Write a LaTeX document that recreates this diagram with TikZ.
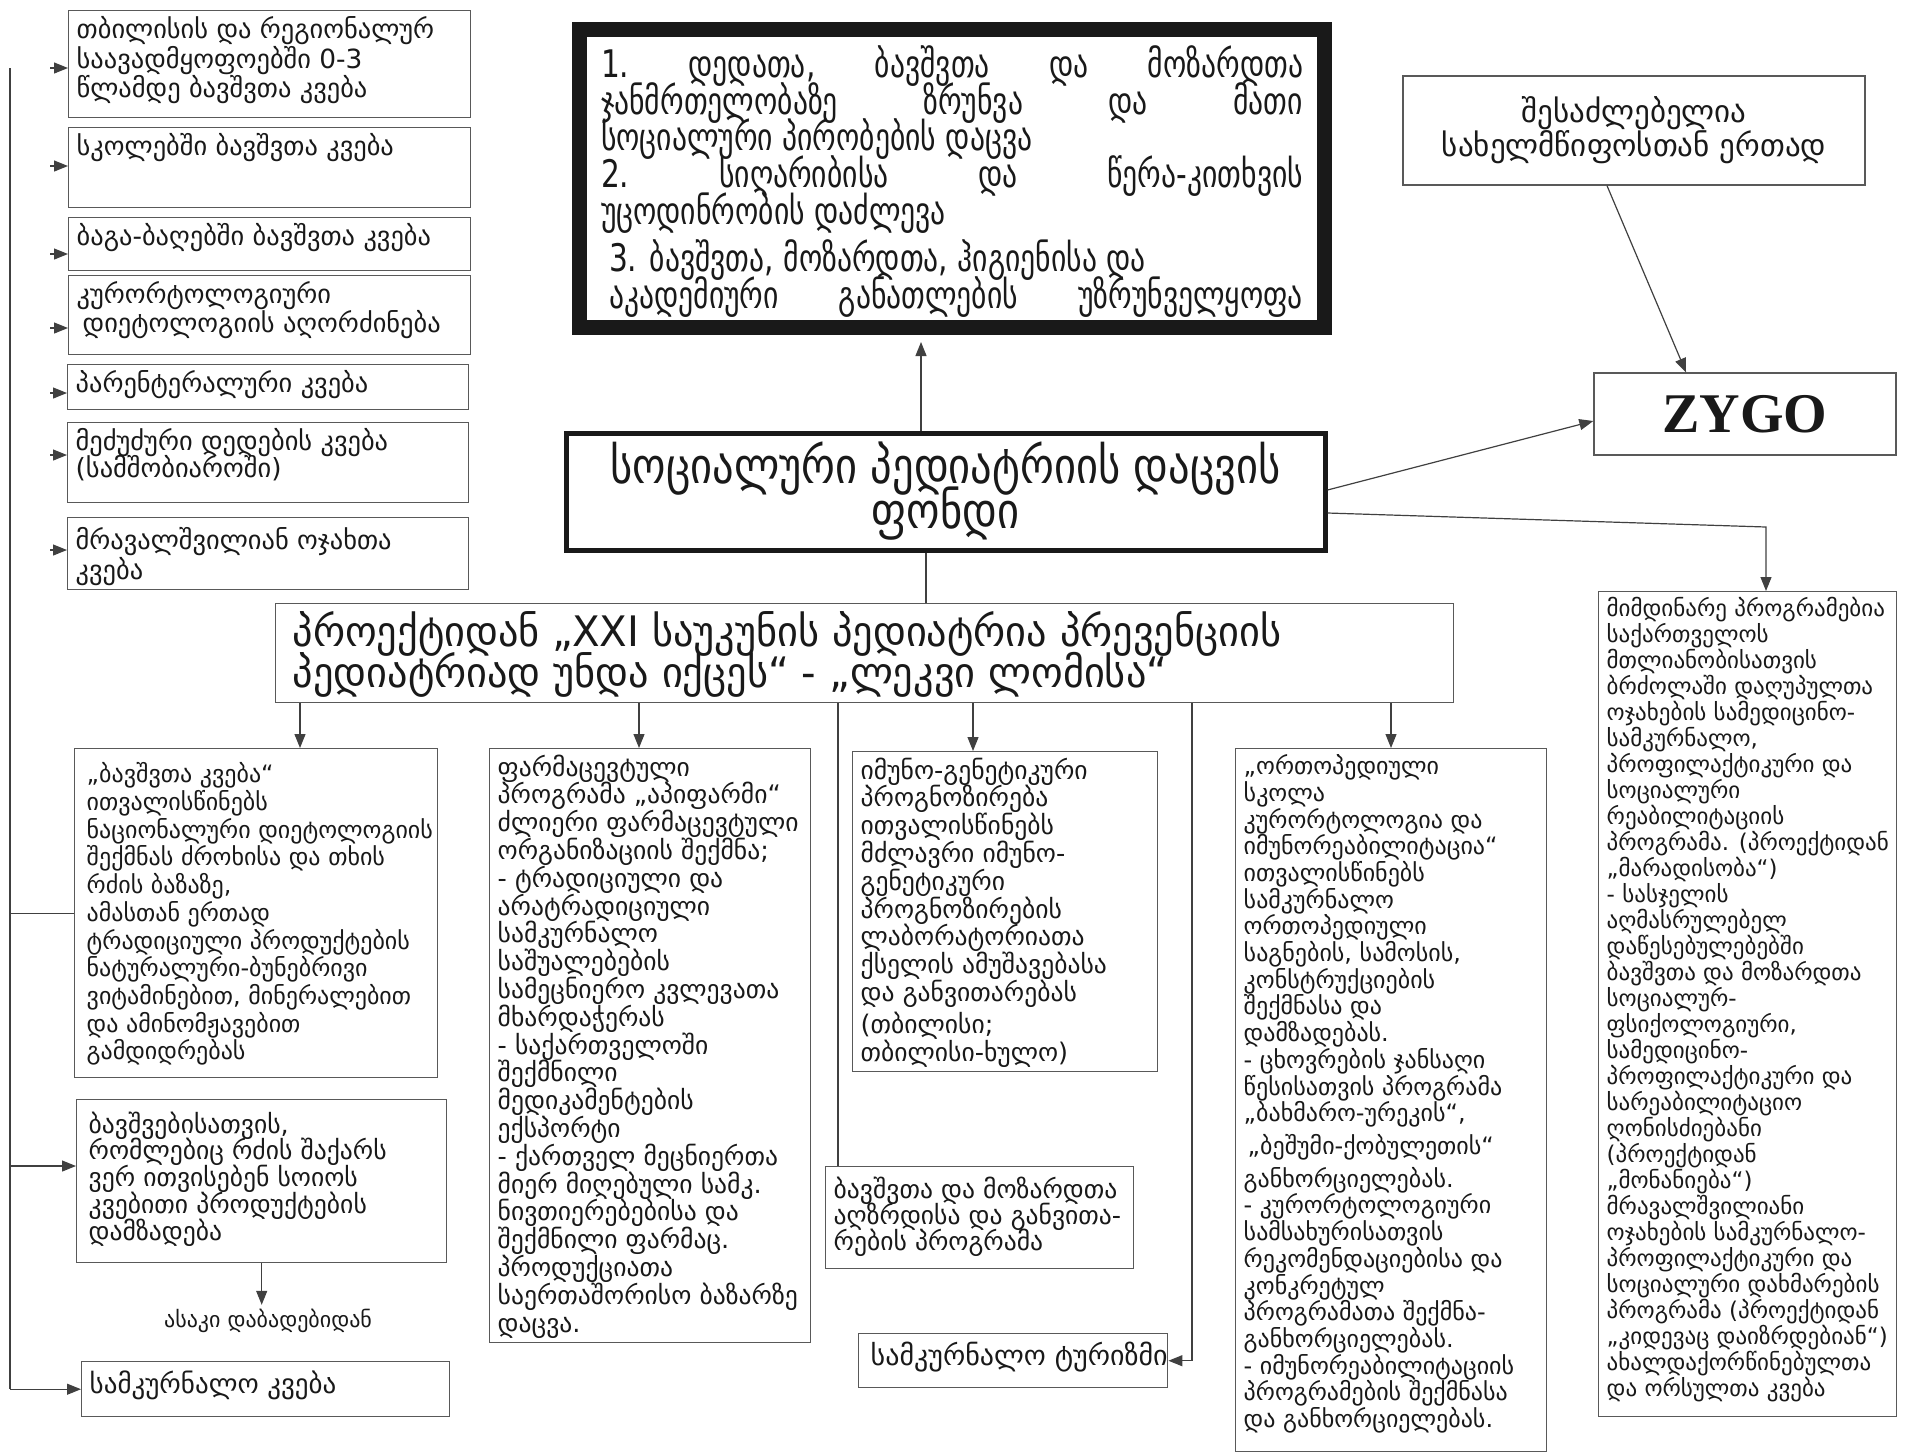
\documentclass[tikz,border=0pt]{standalone}
\usepackage{fontspec}
\setmainfont{DejaVu Sans}
\newfontfamily\gcond[FakeStretch=0.78]{DejaVu Sans}
\newfontfamily\gcondA[FakeStretch=0.85]{DejaVu Sans}
\newfontfamily\gcondB[FakeStretch=0.96]{DejaVu Sans}
\newfontfamily\zfont{Liberation Serif}
\usetikzlibrary{arrows.meta,calc}
\setlength\lineskiplimit{-100pt}
\newcommand\gb[3]{\parbox[t][#2pt][t]{#1pt}{\raggedright\rightskip=-18pt plus 1fil\lineskiplimit=-100pt #3}}
\tikzset{
  gbox/.style={draw=black!65, line width=0.7pt, inner xsep=4pt, inner ysep=3pt, anchor=north west, text=black!90},
  lfont/.style={font=\fontsize{13.2}{14.6}\selectfont},
  arr/.style={draw=black!75, line width=0.6pt, -{Triangle[length=7pt,width=5.5pt]}},
  ln/.style={draw=black!75, line width=0.6pt},
}
\begin{document}
\begin{tikzpicture}[x=0.5pt,y=-0.5pt]
\useasboundingbox (0,0) rectangle (1930,1452);

% left column boxes
\node[gbox,lfont] (L1) at (68,10) {\gb{193}{47.5}{თბილისის და რეგიონალურ\\საავადმყოფოებში 0-3\\წლამდე ბავშვთა კვება}};
\node[gbox,lfont] (L2) at (68,127) {\gb{193}{34}{სკოლებში ბავშვთა კვება}};
\node[gbox,lfont] (L3) at (68,217) {\gb{193}{20.5}{ბაგა-ბაღებში ბავშვთა კვება}};
\node[gbox,lfont] (L4) at (68,275) {\gb{193}{33.5}{კურორტოლოგიური\\\hspace*{3pt}დიეტოლოგიის აღორძინება}};
\node[gbox,lfont] (L5) at (67,364) {\gb{192.5}{16.5}{პარენტერალური კვება}};
\node[gbox,lfont] (L6) at (67,422) {\gb{192.5}{34}{მეძუძური დედების კვება\\[-1.5pt](სამშობიაროში)}};
\node[gbox,lfont] (L7) at (67,517) {\gb{192.5}{30}{\vspace*{2pt}მრავალშვილიან ოჯახთა\\კვება}};

% top box
\node[draw=black!90, line width=7.5pt, anchor=north west, inner xsep=10.75pt, inner ysep=8pt, text=black!90,
      font=\gcond\fontsize{19}{18.4}\selectfont] (top) at (572,22)
 {\parbox[t][133pt][t]{351pt}{\raggedright\lineskiplimit=-100pt
 1.\hfill დედათა,\hfill ბავშვთა\hfill და\hfill მოზარდთა\\
 ჯანმრთელობაზე\hfill ზრუნვა\hfill და\hfill მათი\\
 სოციალური პირობების დაცვა\\
 2.\hfill სიღარიბისა\hfill და\hfill წერა-კითხვის\\
 უცოდინრობის დაძლევა\\[5pt]
 \hspace*{4pt}3. ბავშვთა, მოზარდთა, ჰიგიენისა და\\
 \hspace*{4pt}აკადემიური\hfill განათლების\hfill უზრუნველყოფა}};

% top right
\node[draw=black!65, line width=0.7pt, minimum width=231pt, minimum height=54.5pt, align=center, text=black!90,
      font=\fontsize{15.5}{17}\selectfont] (tr) at (1634,130.5) {შესაძლებელია\\სახელმწიფოსთან ერთად};
\node[draw=black!65, line width=0.7pt, minimum width=151pt, minimum height=41pt, text=black!90,
      font=\zfont\bfseries\fontsize{28}{30}\selectfont] (zygo) at (1745,414) {ZYGO};

% center
\node[draw=black!90, line width=2.5pt, minimum width=379.5pt, minimum height=58.5pt, align=center, text=black!90,
      font=\gcondA\fontsize{25}{22.5}\selectfont] (sc) at (945.5,491.5) {სოციალური პედიატრიის დაცვის\\ფონდი};

% project
\node[draw=black!65, line width=0.7pt, anchor=north west, inner xsep=8.5pt, inner ysep=4pt, text=black!90,
      font=\gcondB\fontsize{21}{20.5}\selectfont] (proj) at (275,603)
 {\gb{572}{41.5}{პროექტიდან „XXI საუკუნის პედიატრია პრევენციის\\პედიატრიად უნდა იქცეს“ - „ლეკვი ლომისა“}};

% bottom boxes
\node[gbox,font=\fontsize{12}{13.85}\selectfont] (B1) at (74,748) {\gb{173.5}{158.5}{\vspace*{4pt}\hspace*{2pt}„ბავშვთა კვება“\\\hspace*{2pt}ითვალისწინებს\\\hspace*{2pt}ნაციონალური დიეტოლოგიის\\\hspace*{2pt}შექმნას ძროხისა და თხის\\\hspace*{2pt}რძის ბაზაზე,\\\hspace*{2pt}ამასთან ერთად\\\hspace*{2pt}ტრადიციული პროდუქტების\\\hspace*{2pt}ნატურალური-ბუნებრივი\\\hspace*{2pt}ვიტამინებით, მინერალებით\\\hspace*{2pt}და ამინომჟავებით\\\hspace*{2pt}გამდიდრებას}};
\node[gbox,font=\fontsize{12.8}{13.4}\selectfont] (B1b) at (76,1099) {\gb{177}{75.5}{\vspace*{3pt}\hspace*{2pt}ბავშვებისათვის,\\\hspace*{2pt}რომლებიც რძის შაქარს\\\hspace*{2pt}ვერ ითვისებენ სოიოს\\\hspace*{2pt}კვებითი პროდუქტების\\\hspace*{2pt}დამზადება}};
\node[font=\fontsize{11}{13}\selectfont, text=black!90, inner sep=2pt] (age) at (268,1321) {ასაკი დაბადებიდან};
\node[gbox,font=\fontsize{13.5}{14}\selectfont] (B1c) at (81,1361) {\gb{176}{21.5}{\vspace*{1.5pt}სამკურნალო კვება}};

\node[gbox,font=\fontsize{12.8}{13.9}\selectfont] (B2) at (489,748) {\gb{152.5}{291}{ფარმაცევტული\\პროგრამა „აპიფარმი“\\ძლიერი ფარმაცევტული\\ორგანიზაციის შექმნა;\\- ტრადიციული და\\არატრადიციული\\სამკურნალო\\საშუალებების\\სამეცნიერო კვლევათა\\მხარდაჭერას\\- საქართველოში\\შექმნილი\\მედიკამენტების\\ექსპორტი\\- ქართველ მეცნიერთა\\მიერ მიღებული სამკ.\\ნივთიერებებისა და\\შექმნილი ფარმაც.\\პროდუქციათა\\საერთაშორისო ბაზარზე\\დაცვა.}};

\node[gbox,font=\fontsize{12.8}{13.9}\selectfont] (B3) at (852,751) {\gb{144.5}{154}{იმუნო-გენეტიკური\\პროგნოზირება\\ითვალისწინებს\\მძლავრი იმუნო-\\გენეტიკური\\პროგნოზირების\\ლაბორატორიათა\\ქსელის ამუშავებასა\\და განვითარებას\\[2pt](თბილისი;\\თბილისი-ხულო)}};
\node[gbox,font=\fontsize{12.8}{13.2}\selectfont] (B3b) at (825,1166) {\gb{146}{45}{\vspace*{2pt}ბავშვთა და მოზარდთა\\აღზრდისა და განვითა-\\რების პროგრამა}};
\node[gbox,font=\fontsize{14}{14}\selectfont] (B3c) at (858,1333) {\gb{146.5}{21}{\vspace*{1pt}\hspace*{2pt}სამკურნალო ტურიზმი}};

\node[gbox,font=\fontsize{12}{13.35}\selectfont] (B4) at (1235,748) {\gb{147.5}{345.5}{„ორთოპედიული\\სკოლა\\კურორტოლოგია და\\იმუნორეაბილიტაცია“\\ითვალისწინებს\\სამკურნალო\\ორთოპედიული\\საგნების, სამოსის,\\კონსტრუქციების\\შექმნასა და\\დამზადებას.\\- ცხოვრების ჯანსაღი\\წესისათვის პროგრამა\\„ბახმარო-ურეკის“,\\[3pt]\hspace*{2pt}„ბეშუმი-ქობულეთის“\\[3pt]განხორციელებას.\\- კურორტოლოგიური\\სამსახურისათვის\\რეკომენდაციებისა და\\კონკრეტულ\\პროგრამათა შექმნა-\\განხორციელებას.\\- იმუნორეაბილიტაციის\\პროგრამების შექმნასა\\და განხორციელებას.}};

\node[gbox,font=\fontsize{11.5}{13}\selectfont] (B5) at (1598,591) {\gb{141}{406.5}{მიმდინარე პროგრამებია\\საქართველოს\\მთლიანობისათვის\\ბრძოლაში დაღუპულთა\\ოჯახების სამედიცინო-\\სამკურნალო,\\პროფილაქტიკური და\\სოციალური\\რეაბილიტაციის\\პროგრამა. (პროექტიდან\\„მარადისობა“)\\- სასჯელის\\აღმასრულებელ\\დაწესებულებებში\\ბავშვთა და მოზარდთა\\სოციალურ-\\ფსიქოლოგიური,\\სამედიცინო-\\პროფილაქტიკური და\\სარეაბილიტაციო\\ღონისძიებანი\\(პროექტიდან\\„მონანიება“)\\მრავალშვილიანი\\ოჯახების სამკურნალო-\\პროფილაქტიკური და\\სოციალური დახმარების\\პროგრამა (პროექტიდან\\„კიდევაც დაიზრდებიან“)\\ახალდაქორწინებულთა\\და ორსულთა კვება}};

% coordinates
\coordinate (vtop) at (10,68);
\coordinate (a1) at (50,68);
\coordinate (a2) at (50,166);
\coordinate (a3) at (50,254);
\coordinate (a4) at (50,328);
\coordinate (a5) at (50,393);
\coordinate (a6) at (50,455);
\coordinate (a7) at (50,550);
\coordinate (bend) at (1766,527);
\coordinate (topin) at ([yshift=-3.5pt]top.south);

% left arrows
\draw[arr] (a1) -- (L1.west |- a1);
\draw[arr] (a2) -- (L2.west |- a2);
\draw[arr] (a3) -- (L3.west |- a3);
\draw[arr] (a4) -- (L4.west |- a4);
\draw[arr] (a5) -- (L5.west |- a5);
\draw[arr] (a6) -- (L6.west |- a6);
\draw[arr] (a7) -- (L7.west |- a7);

% left spine
\draw[ln] (vtop) -- (vtop |- B1c.west);
\draw[ln] (vtop |- B1.west) -- (B1.west);
\draw[arr] (vtop |- 0,1166) -- (B1b.west |- 0,1166);
\draw[arr] (vtop |- B1c.west) -- (B1c.west);
\draw[arr] (B1b.south) -- (B1b.south |- age.north);

% center connections
\draw[arr] (sc.north -| 921,0) -- (topin -| 921,0);
\draw[ln] (sc.south -| 926,0) -- (proj.north -| 926,0);
\draw[arr] (sc.east |- 0,490) -- (zygo.west |- 0,421);
\draw[arr] (tr.south -| 1607,0) -- (zygo.north -| 1686,0);
\draw[arr] (sc.east |- 0,513) -- (bend) -- (B5.north -| bend);

% project to bottom
\draw[arr] (proj.south -| 300,0) -- (B1.north -| 300,0);
\draw[arr] (proj.south -| 639,0) -- (B2.north -| 639,0);
\draw[ln] (proj.south -| 838,0) -- (B3b.north -| 838,0);
\draw[arr] (proj.south -| 973,0) -- (B3.north -| 973,0);
\draw[arr] (proj.south -| 1192,0) |- (B3c.east);
\draw[arr] (proj.south -| 1391,0) -- (B4.north -| 1391,0);
\end{tikzpicture}
\end{document}
